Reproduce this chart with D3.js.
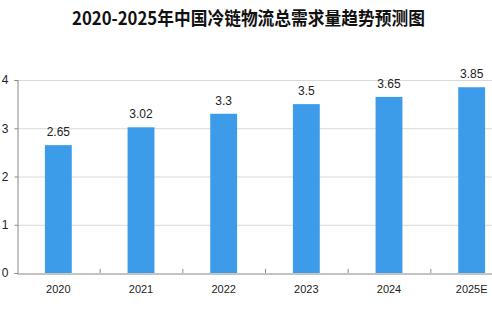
<!DOCTYPE html>
<html><head><meta charset="utf-8">
<script src="https://cdn.jsdelivr.net/npm/d3@7"></script>
<style>body{margin:0;background:#fff}</style>
</head><body>
<svg id="c" width="492" height="328"></svg>
<script>
const categories = ["2020","2021","2022","2023","2024","2025E"];
const values = [2.65, 3.02, 3.3, 3.5, 3.65, 3.85];
const yTicks = [0,1,2,3,4];
const title = "2020-2025年中国冷链物流总需求量趋势预测图";

(function(){
const svg = d3.select("#c");
const mLeft = 17, mRight = 513, mTop = 80, mBottom = 273;
const x = d3.scaleBand().domain(categories).range([mLeft, mRight]).paddingInner(0.675).paddingOuter(0.3375);
const y = d3.scaleLinear().domain([0,4]).range([mBottom, mTop]);

svg.append("text").attr("x",72).attr("y",25)
  .attr("font-family","'Noto Sans CJK SC'").attr("font-weight","bold").attr("fill","#111").attr("font-size",18.5)
  .attr("textLength",353).attr("lengthAdjust","spacingAndGlyphs").text(title);

// gridlines
svg.append("g").selectAll("line").data(yTicks.filter(d=>d>0)).join("line")
  .attr("x1",mLeft).attr("x2",492).attr("y1",d=>y(d)+0.5).attr("y2",d=>y(d)+0.5)
  .attr("stroke","#d9d9d9").attr("stroke-width",1);

// y axis
const ya = svg.append("g").attr("transform",`translate(${mLeft+0.5},0)`)
  .call(d3.axisLeft(y).tickValues(yTicks).tickSize(3).tickFormat(d3.format("d")));
ya.select(".domain").attr("stroke","#888");
ya.selectAll(".tick line").attr("stroke","#888");
ya.selectAll(".tick text").attr("x",-9).attr("font-family","'Liberation Sans', Arial").attr("font-size",12).attr("fill","#222");

// bars
svg.append("g").selectAll("rect").data(values).join("rect")
  .attr("x",(d,i)=>x(categories[i])).attr("width",x.bandwidth())
  .attr("y",d=>y(d)).attr("height",d=>y(0)-y(d)).attr("fill","#3c9ce9");

// value labels
svg.append("g").selectAll("text").data(values).join("text")
  .attr("x",(d,i)=>x(categories[i])+x.bandwidth()/2).attr("y",d=>y(d)-9)
  .attr("text-anchor","middle").attr("font-family","'Liberation Sans', Arial").attr("font-size",12).attr("fill","#222")
  .text(d=>d);

// x axis
const xa = svg.append("g").attr("transform",`translate(0,${mBottom+0.5})`)
  .call(d3.axisBottom(x).tickSize(0).tickPadding(12));
xa.select(".domain").attr("stroke","#888");
xa.selectAll(".tick text").attr("font-family","'Liberation Sans', Arial").attr("font-size",11).attr("fill","#222");
// boundary tick marks
const step = x.step();
svg.append("g").selectAll("line").data(categories.slice(1)).join("line")
  .attr("x1",d=>x(d)-x.paddingInner()*step/2 +0.5).attr("x2",d=>x(d)-x.paddingInner()*step/2+0.5)
  .attr("y1",mBottom-4).attr("y2",mBottom).attr("stroke","#888");
})();
</script>
</body></html>
